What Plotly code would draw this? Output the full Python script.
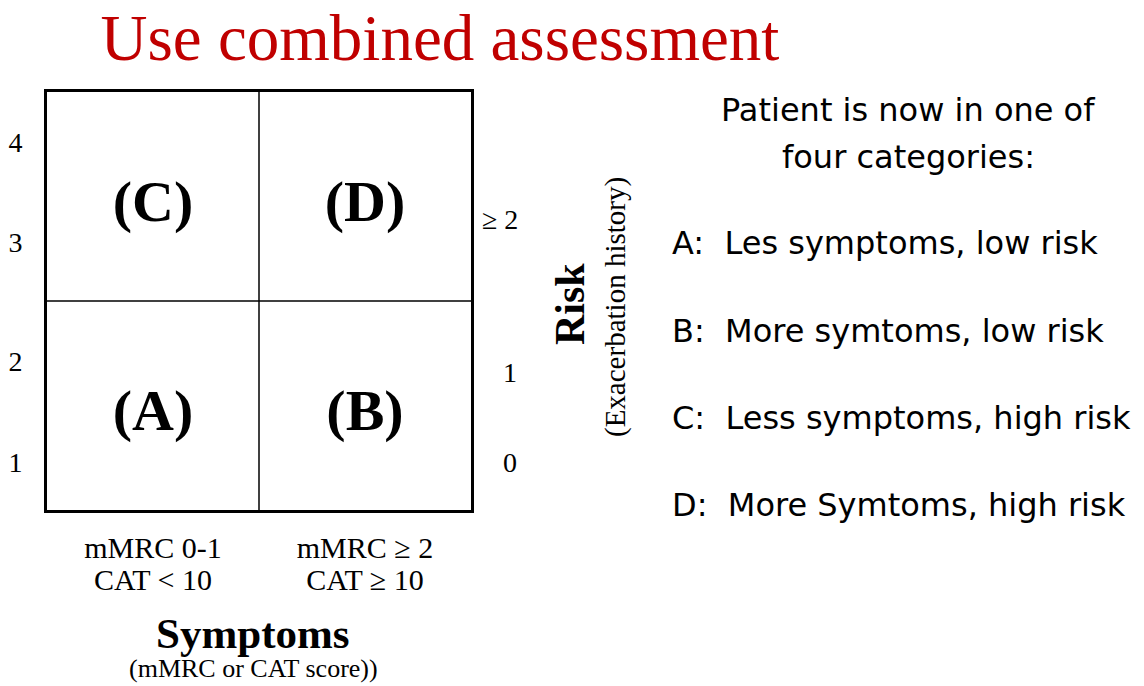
import plotly.graph_objects as go

# ---- data ----
quadrant_labels = ["(A)", "(B)", "(C)", "(D)"]
quadrant_x = [0.5, 1.5, 0.5, 1.5]
quadrant_y = [0.5, 0.5, 1.5, 1.5]

symptom_ticks = [0.5, 1.5]
symptom_line1 = ["mMRC 0-1", "mMRC ≥ 2"]
symptom_line2 = ["CAT < 10", "CAT ≥ 10"]

gold_ticks = [0.23, 0.71, 1.28, 1.76]
gold_labels = ["1", "2", "3", "4"]

exac_ticks = [0.23, 0.66, 1.39]
exac_labels = ["\u00a0\u00a0\u00a00", "\u00a0\u00a0\u00a01", "≥ 2"]

boundary = 1.0
axis_range = [0, 2]

categories_header = ["Patient is now in one of", "four categories:"]
category_lines = [
    "A:  Les symptoms, low risk",
    "B:  More symtoms, low risk",
    "C:  Less symptoms, high risk",
    "D:  More Symtoms, high risk",
]

W, H = 1144, 686
SERIF = "Liberation Serif, Times New Roman, serif"
SANS = "DejaVu Sans, Verdana, sans-serif"

fig = go.Figure()
fig.add_trace(go.Scatter(
    x=quadrant_x, y=[v - 0.05 for v in quadrant_y], text=quadrant_labels, mode="text",
    textposition="middle center",
    textfont=dict(family=SERIF, size=58, color="black", weight="bold"),
    hoverinfo="skip", showlegend=False,
))
# invisible traces for extra axes
fig.add_trace(go.Scatter(x=[None], y=[None], yaxis="y2", showlegend=False, hoverinfo="skip"))
fig.add_trace(go.Scatter(x=[None], y=[None], xaxis="x2", showlegend=False, hoverinfo="skip"))

# quadrant dividers
fig.add_shape(type="line", xref="x", yref="y", x0=boundary, x1=boundary, y0=axis_range[0], y1=axis_range[1],
              line=dict(color="black", width=1.5))
fig.add_shape(type="line", xref="x", yref="y", x0=axis_range[0], x1=axis_range[1], y0=boundary, y1=boundary,
              line=dict(color="black", width=1.5))

x0p, x1p = 47, 471
y0p, y1p = 92, 510
tickfont_bottom = dict(family=SERIF, size=30, color="black")
fig.update_layout(
    width=W, height=H,
    margin=dict(l=0, r=0, t=0, b=0),
    paper_bgcolor="white", plot_bgcolor="white",
    title=dict(text="Use combined assessment", x=440 / W, y=1 - 37 / H,
               xanchor="center", yanchor="middle",
               font=dict(family=SERIF, size=65, color="#C00000")),
    xaxis=dict(domain=[x0p / W, x1p / W], range=axis_range, showgrid=False, zeroline=False,
               showline=True, linecolor="black", linewidth=3, mirror=True,
               tickvals=symptom_ticks, ticktext=symptom_line1, ticks="",
               ticklabelstandoff=9, tickfont=tickfont_bottom),
    xaxis2=dict(overlaying="x", anchor="free", position=1 - 549 / H, side="bottom",
                range=axis_range, showgrid=False, zeroline=False, showline=False,
                tickvals=symptom_ticks, ticktext=symptom_line2, ticks="",
                ticklabelstandoff=10, tickfont=tickfont_bottom),
    yaxis=dict(domain=[1 - y1p / H, 1 - y0p / H], range=axis_range, showgrid=False, zeroline=False,
               showline=True, linecolor="black", linewidth=3, mirror=True,
               tickvals=gold_ticks, ticktext=gold_labels, ticks="",
               ticklabelstandoff=16,
               tickfont=dict(family=SERIF, size=28, color="black")),
    yaxis2=dict(overlaying="y", side="right", range=axis_range, showgrid=False, zeroline=False,
                showline=False, tickvals=exac_ticks, ticktext=exac_labels, ticks="",
                ticklabelstandoff=10,
                tickfont=dict(family=SERIF, size=28, color="black")),
)

annotations = [
    dict(text="<b>Symptoms</b>", x=253 / W, y=1 - 633 / H, xref="paper", yref="paper",
         showarrow=False, xanchor="center", yanchor="middle",
         font=dict(family=SERIF, size=43, color="black")),
    dict(text="(mMRC or CAT score))", x=253 / W, y=1 - 668 / H, xref="paper", yref="paper",
         showarrow=False, xanchor="center", yanchor="middle",
         font=dict(family=SERIF, size=26, color="black")),
    dict(text="<b>Risk</b>", x=570 / W, y=1 - 304 / H, xref="paper", yref="paper", textangle=-90,
         showarrow=False, xanchor="center", yanchor="middle",
         font=dict(family=SERIF, size=42, color="black")),
    dict(text="(Exacerbation history)", x=615 / W, y=1 - 307 / H, xref="paper", yref="paper", textangle=-90,
         showarrow=False, xanchor="center", yanchor="middle",
         font=dict(family=SERIF, size=29, color="black")),
]
for line, yy in zip(categories_header, [110, 157]):
    annotations.append(dict(text=line, x=908 / W, y=1 - yy / H, xref="paper", yref="paper",
                            showarrow=False, xanchor="center", yanchor="middle",
                            font=dict(family=SANS, size=32, color="black")))
cat_y = [243, 331, 418, 505]
for line, yy in zip(category_lines, cat_y):
    annotations.append(dict(text=line.replace("  ", "\u00a0\u00a0"), x=670 / W, y=1 - yy / H,
                            xref="paper", yref="paper", showarrow=False,
                            xanchor="left", yanchor="middle",
                            font=dict(family=SANS, size=32, color="black")))
fig.update_layout(annotations=annotations)

fig.write_html("out.html", config={"displayModeBar": False},
               post_script="document.body.style.margin='0px';")
